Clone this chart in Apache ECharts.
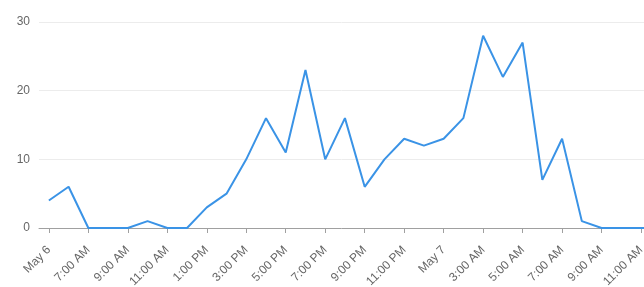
<!DOCTYPE html>
<html>
<head>
<meta charset="utf-8">
<script src="https://cdn.jsdelivr.net/npm/echarts@6/dist/echarts.min.js"></script>
<style>html,body{margin:0;padding:0;background:#fff}#c{width:644px;height:287px}</style>
</head>
<body>
<div id="c"></div>
<script>
// hourly points, starting May 6 5:00 AM
var hours = ['May 6','6:00 AM','7:00 AM','8:00 AM','9:00 AM','10:00 AM','11:00 AM','12:00 PM','1:00 PM','2:00 PM','3:00 PM','4:00 PM','5:00 PM','6:00 PM','7:00 PM','8:00 PM','9:00 PM','10:00 PM','11:00 PM','12:00 AM','May 7','2:00 AM','3:00 AM','4:00 AM','5:00 AM','6:00 AM','7:00 AM','8:00 AM','9:00 AM','10:00 AM','11:00 AM','12:00 PM'];
var values = [4,6,0,0,0,1,0,0,3,5,10,16,11,23,10,16,6,10,13,12,13,16,28,22,27,7,13,1,0,0,0,0];
var tickIndex = [0,2,4,6,8,10,12,14,16,18,20,22,24,26,28,30];
var yTicks = [0,10,20,30];

var data = values.map(function(v,i){return [i,v];});
var chart = echarts.init(document.getElementById('c'));
chart.setOption({
  animation:false,
  grid:{left:39,right:0,top:22,bottom:59,containLabel:false,outerBoundsMode:'none'},
  xAxis:{
    type:'value', min:-0.5, max:30.15,
    axisLine:{show:true,lineStyle:{color:'#a0a0a0',width:1}},
    axisTick:{show:true,customValues:tickIndex,length:5,lineStyle:{color:'#a0a0a0'}},
    axisLabel:{customValues:tickIndex,rotate:45,color:'#666',fontSize:12,fontFamily:'Liberation Sans, Arial, sans-serif',margin:20,
      formatter:function(v){return hours[Math.round(v)];}},
    splitLine:{show:false}
  },
  yAxis:{
    type:'value', min:0, max:30, interval:10,
    axisLine:{show:false}, axisTick:{show:false},
    axisLabel:{color:'#666',fontSize:12,fontFamily:'Liberation Sans, Arial, sans-serif',margin:9},
    splitLine:{lineStyle:{color:'#ececec'}}
  },
  series:[{type:'line',data:data,showSymbol:false,symbol:'none',clip:true,
    lineStyle:{color:'#3a93e6',width:2},itemStyle:{color:'#3a93e6'}}]
});
</script>
</body>
</html>
